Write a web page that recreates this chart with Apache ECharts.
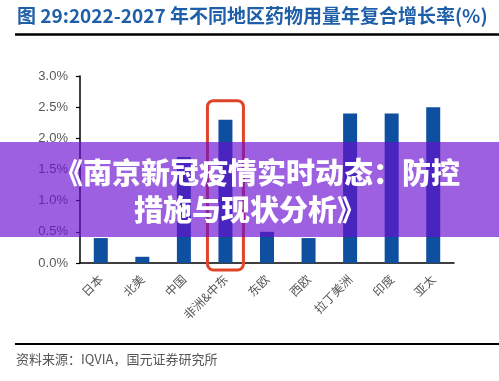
<!DOCTYPE html>
<html>
<head>
<meta charset="utf-8">
<script src="https://cdn.jsdelivr.net/npm/echarts@6/dist/echarts.min.js"></script>
<style>
html,body{margin:0;padding:0;background:#fff;}
#c{width:499px;height:381px;}
</style>
</head>
<body>
<div id="c"></div>
<script>
var categories = ['日本','北美','中国','非洲&中东','东欧','西欧','拉丁美洲','印度','亚太'];
var cagr = [0.4, 0.1, 1.7, 2.3, 0.5, 0.4, 2.4, 2.4, 2.5];
var yTicks = [0, 0.5, 1.0, 1.5, 2.0, 2.5, 3.0];
var highlightIndex = 3;
var titleText = '图 29:2022-2027 年不同地区药物用量年复合增长率(%)';
var sourceText = '资料来源：IQVIA，国元证券研究所';
var bannerLines = ['《南京新冠疫情实时动态：防控', '措施与现状分析》'];

var chart = echarts.init(document.getElementById('c'), null, {renderer:'canvas'});
var option = {
  animation: false,
  backgroundColor: '#fff',
  grid: {left: 80, right: 45, top: 76, bottom: 118},
  xAxis: {
    type: 'category',
    data: categories,
    axisLine: {lineStyle: {color: '#000', width: 1.5}},
    axisTick: {inside: true, length: 4, lineStyle: {color: '#000', width: 1.2}},
    axisLabel: {rotate: 45, color: '#555', fontSize: 12, fontFamily: 'Noto Sans CJK SC', margin: 14}
  },
  yAxis: {
    type: 'value',
    min: yTicks[0], max: yTicks[yTicks.length-1], interval: 0.5,
    splitLine: {show: false},
    axisLine: {show: true, lineStyle: {color: '#000', width: 1.5}},
    axisTick: {show: true, length: 4, lineStyle: {color: '#000', width: 1.2}},
    axisLabel: {color: '#595959', fontSize: 13, fontFamily: 'Liberation Sans', margin: 12,
      formatter: function(v){ return v.toFixed(1) + '%'; }}
  },
  series: [{
    type: 'bar',
    data: cagr,
    barWidth: 14,
    itemStyle: {color: '#0e4f9f'}
  }]
};
chart.setOption(option);

function buildGraphics(){
  var cx = chart.convertToPixel({xAxisIndex:0}, categories[highlightIndex]);
  var yTop = chart.convertToPixel({yAxisIndex:0}, cagr[highlightIndex]);
  var y0 = chart.convertToPixel({yAxisIndex:0}, 0);
  var els = [
    {type:'text', left: 17, top: 6, z: 50, style:{text: titleText, fill:'#1f5fa9', font:'bold 19px "Noto Sans CJK SC"'}},
    {type:'line', z: 50, shape:{x1:15, y1:34.5, x2:499, y2:34.5}, style:{stroke:'#000', lineWidth:2.5}},
    {type:'line', z: 50, shape:{x1:15, y1:344, x2:499, y2:344}, style:{stroke:'#000', lineWidth:2}},
    {type:'text', left: 16, top: 353, z: 50, style:{text: sourceText, fill:'#555', font:'13px "Noto Sans CJK SC"'}},
    {type:'rect', z: 60, shape:{x: cx-18, y: yTop-19, width: 36, height: (y0 - yTop) + 26, r: 6},
      style:{fill:'none', stroke:'#e0452a', lineWidth:3}},
    {type:'rect', z: 70, shape:{x:0, y:142, width:499, height:95}, style:{fill:'rgba(104,14,208,0.66)'}},
    {type:'text', z: 80, x: 257, y: 173, style:{text: bannerLines[0], fill:'#fff', font:'900 29px "Noto Sans CJK SC"', textAlign:'center', textVerticalAlign:'middle'}},
    {type:'text', z: 80, x: 250, y: 210, style:{text: bannerLines[1], fill:'#fff', font:'900 29px "Noto Sans CJK SC"', textAlign:'center', textVerticalAlign:'middle'}}
  ];
  chart.setOption({graphic: {elements: els}});
}
buildGraphics();
</script>
</body>
</html>
